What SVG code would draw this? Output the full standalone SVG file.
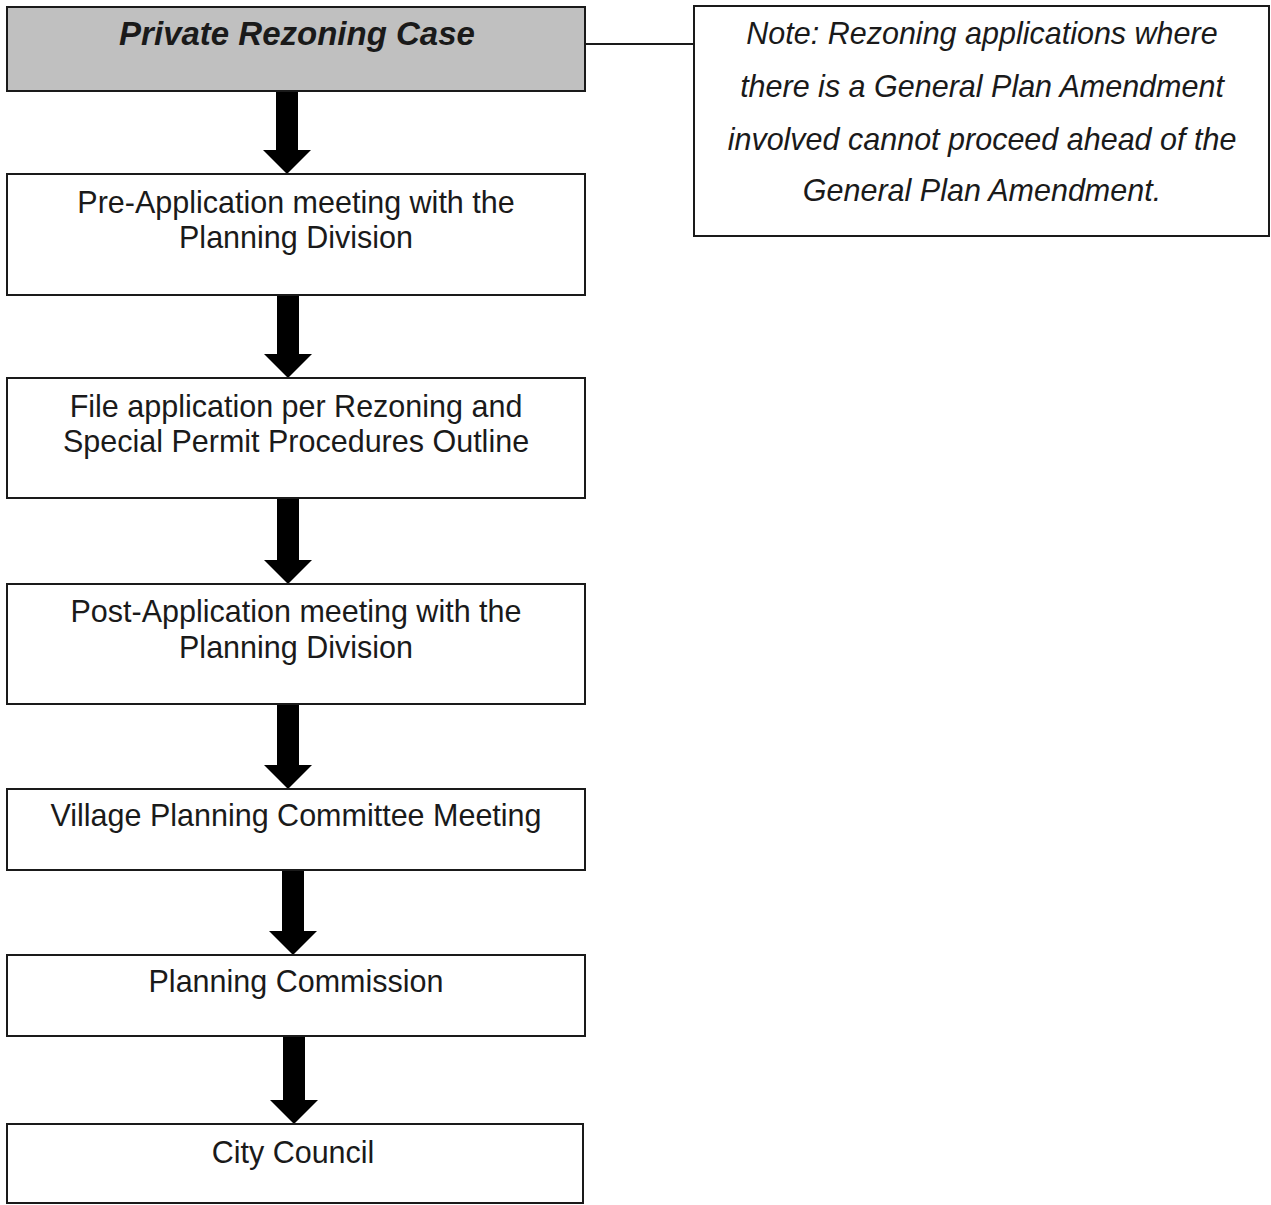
<svg xmlns="http://www.w3.org/2000/svg" width="1271" height="1205" viewBox="0 0 1271 1205">
<defs>
<style>
.box{fill:#fff;stroke:#1a1a1a;stroke-width:2}
.head{fill:#c0c0c0;stroke:#1a1a1a;stroke-width:2}
.t{font-family:"Liberation Sans",Arial,sans-serif;font-size:30.5px;fill:#1a1a1a;text-anchor:middle}
.ti{font-family:"Liberation Sans",Arial,sans-serif;font-size:30.5px;font-style:italic;fill:#1a1a1a;text-anchor:middle}
.tb{font-family:"Liberation Sans",Arial,sans-serif;font-size:33px;font-style:italic;font-weight:bold;fill:#1a1a1a;text-anchor:middle}
.arr{fill:#000}
.ln{stroke:#1a1a1a;stroke-width:2;fill:none}
</style>
</defs>
<rect width="1271" height="1205" fill="#fff"/>
<g id="connectors">
<line class="ln" x1="585" y1="44" x2="694" y2="44"/>
<polygon class="arr" points="276,91 298,91 298,150 311,150 287,174 263,150 276,150"/>
<polygon class="arr" points="277,295 299,295 299,354 312,354 288,378 264,354 277,354"/>
<polygon class="arr" points="277,498 299,498 299,560 312,560 288,584 264,560 277,560"/>
<polygon class="arr" points="277,704 299,704 299,765 312,765 288,789 264,765 277,765"/>
<polygon class="arr" points="282,870 304,870 304,931 317,931 293,955 269,931 282,931"/>
<polygon class="arr" points="283,1036 305,1036 305,1100 318,1100 294,1124 270,1100 283,1100"/>
</g>
<g id="n-private">
<rect class="head" x="7" y="7" width="578" height="84"/>
<text class="tb" x="297" y="45">Private Rezoning Case</text>
</g>
<g id="n-note">
<rect class="box" x="694" y="6" width="575" height="230"/>
<text class="ti" x="982" y="44">Note: Rezoning applications where</text>
<text class="ti" x="982" y="97">there is a General Plan Amendment</text>
<text class="ti" x="982" y="150">involved cannot proceed ahead of the</text>
<text class="ti" x="982" y="201">General Plan Amendment.</text>
</g>
<g id="n-pre">
<rect class="box" x="7" y="174" width="578" height="121"/>
<text class="t" x="296" y="213">Pre-Application meeting with the</text>
<text class="t" x="296" y="248">Planning Division</text>
</g>
<g id="n-file">
<rect class="box" x="7" y="378" width="578" height="120"/>
<text class="t" x="296" y="417">File application per Rezoning and</text>
<text class="t" x="296" y="452">Special Permit Procedures Outline</text>
</g>
<g id="n-post">
<rect class="box" x="7" y="584" width="578" height="120"/>
<text class="t" x="296" y="622">Post-Application meeting with the</text>
<text class="t" x="296" y="658">Planning Division</text>
</g>
<g id="n-village">
<rect class="box" x="7" y="789" width="578" height="81"/>
<text class="t" x="296" y="826">Village Planning Committee Meeting</text>
</g>
<g id="n-commission">
<rect class="box" x="7" y="955" width="578" height="81"/>
<text class="t" x="296" y="992">Planning Commission</text>
</g>
<g id="n-council">
<rect class="box" x="7" y="1124" width="576" height="79"/>
<text class="t" x="293" y="1163">City Council</text>
</g>
</svg>
